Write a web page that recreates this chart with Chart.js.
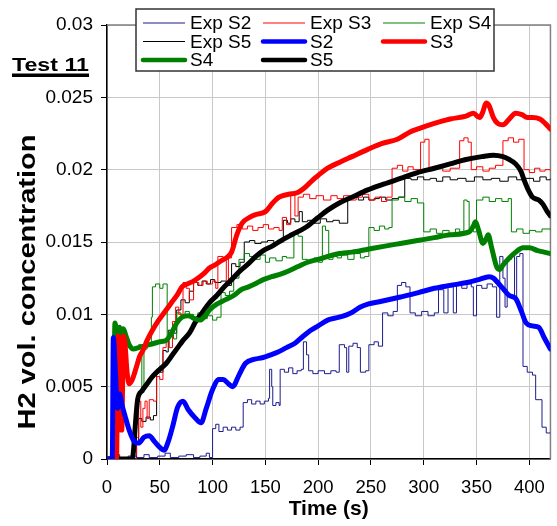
<!DOCTYPE html>
<html>
<head>
<meta charset="utf-8">
<script src="https://cdn.jsdelivr.net/npm/chart.js@4"></script>
<style>
  html, body { margin: 0; padding: 0; background: #fff; }
  #wrap { width: 557px; height: 526px; }
</style>
</head>
<body>
<div id="wrap"><canvas id="h2Chart" width="557" height="526"></canvas></div>
<script>
// Test 11 - H2 volume concentration, experiment vs simulation (sensors S2..S5)

// Exp S2
const expS2T = [0, 8, 12, 20, 28, 35, 40, 48, 55, 60, 68, 75, 82, 88, 94, 97, 100, 103, 106, 110, 114, 118, 122, 126, 129, 133, 137, 141, 145, 149, 153, 154, 156, 157, 160, 163, 164, 168, 172, 176, 180, 184, 186, 189, 191, 195, 200, 206, 212, 217, 220, 225, 227, 229, 233, 237, 240, 245, 248, 253, 257, 261, 266, 271, 275, 279, 283, 287, 292, 298, 304, 310, 314, 319, 323, 328, 331, 336, 341, 345, 347, 350, 355, 360, 365, 369, 372, 375, 377, 379, 383, 386, 388, 391, 394, 398, 403, 406, 410, 412, 416, 420];
const expS2V = [0.0001, 0.0003, 0.0001, 0.0002, 0.0001, 0.0003, 0.0001, 0.0002, 0.0004, 0.0001, 0.0002, 0.0003, 0.0001, 0.0002, 0.0004, 0.0001, 0.0021, 0.0024, 0.0019, 0.0022, 0.0020, 0.0022, 0.0020, 0.0022, 0.0039, 0.0041, 0.0038, 0.0040, 0.0038, 0.0040, 0.0042, 0.0062, 0.0050, 0.0037, 0.0039, 0.0037, 0.0062, 0.0060, 0.0063, 0.0059, 0.0061, 0.0062, 0.0081, 0.0072, 0.0061, 0.0059, 0.0061, 0.0059, 0.0061, 0.0060, 0.0079, 0.0077, 0.0060, 0.0078, 0.0080, 0.0077, 0.0060, 0.0061, 0.0079, 0.0081, 0.0078, 0.0101, 0.0099, 0.0102, 0.0120, 0.0122, 0.0119, 0.0101, 0.0099, 0.0102, 0.0099, 0.0101, 0.0117, 0.0101, 0.0119, 0.0101, 0.0120, 0.0118, 0.0121, 0.0119, 0.0099, 0.0120, 0.0118, 0.0121, 0.0119, 0.0098, 0.0140, 0.0125, 0.0105, 0.0138, 0.0140, 0.0110, 0.0140, 0.0142, 0.0064, 0.0060, 0.0058, 0.0041, 0.0041, 0.0022, 0.0018, 0.0018];

// Exp S3
const expS3T = [0, 26, 28, 30, 32, 34, 36, 38, 40, 44, 47, 50, 53, 56, 59, 62, 65, 68, 72, 75, 78, 82, 87, 91, 95, 100, 103, 105, 110, 113, 115, 118, 123, 128, 133, 138, 143, 148, 153, 158, 163, 166, 170, 174, 178, 181, 186, 192, 198, 205, 212, 218, 224, 230, 236, 242, 248, 254, 260, 265, 270, 275, 280, 285, 290, 297, 301, 305, 312, 318, 325, 334, 338, 342, 345, 350, 356, 362, 368, 375, 380, 385, 390, 395, 400, 405, 410, 415, 420];
const expS3V = [0, 0, 0.0015, 0.0040, 0.0022, 0.0035, 0.0040, 0.0028, 0.0041, 0.0040, 0.0057, 0.0055, 0.0077, 0.0082, 0.0077, 0.0095, 0.0105, 0.0100, 0.0122, 0.0118, 0.0110, 0.0122, 0.0120, 0.0123, 0.0121, 0.0123, 0.0118, 0.0140, 0.0138, 0.0122, 0.0139, 0.0160, 0.0162, 0.0159, 0.0161, 0.0158, 0.0160, 0.0162, 0.0159, 0.0160, 0.0158, 0.0167, 0.0162, 0.0184, 0.0168, 0.0181, 0.0183, 0.0180, 0.0182, 0.0179, 0.0182, 0.0180, 0.0182, 0.0179, 0.0181, 0.0183, 0.0179, 0.0181, 0.0178, 0.0181, 0.0201, 0.0203, 0.0199, 0.0202, 0.0200, 0.0219, 0.0221, 0.0200, 0.0202, 0.0199, 0.0201, 0.0220, 0.0222, 0.0219, 0.0200, 0.0202, 0.0199, 0.0201, 0.0203, 0.0220, 0.0222, 0.0219, 0.0221, 0.0200, 0.0198, 0.0201, 0.0199, 0.0200, 0.0199];

// Exp S4
const expS4T = [0, 5, 6, 9, 12, 16, 20, 24, 30, 33, 35, 38, 42, 43, 46, 50, 53, 57, 60, 63, 66, 70, 74, 78, 82, 86, 90, 95, 100, 104, 108, 112, 116, 120, 125, 130, 135, 140, 145, 150, 154, 160, 166, 170, 177, 181, 185, 190, 196, 200, 204, 207, 210, 214, 218, 222, 228, 234, 240, 244, 248, 253, 258, 263, 267, 270, 276, 282, 288, 294, 300, 306, 312, 318, 324, 330, 334, 338, 341, 343, 347, 350, 356, 362, 368, 374, 380, 383, 388, 394, 400, 406, 412, 420];
const expS4V = [0, 0, 0.0088, 0.0092, 0.0085, 0.0082, 0.0078, 0.0077, 0.0079, 0.0046, 0.0076, 0.0079, 0.0098, 0.0119, 0.0121, 0.0118, 0.0121, 0.0084, 0.0086, 0.0083, 0.0101, 0.0099, 0.0102, 0.0100, 0.0098, 0.0101, 0.0097, 0.0099, 0.0096, 0.0098, 0.0115, 0.0113, 0.0116, 0.0125, 0.0138, 0.0142, 0.0140, 0.0138, 0.0141, 0.0136, 0.0139, 0.0137, 0.0140, 0.0139, 0.0156, 0.0154, 0.0138, 0.0137, 0.0139, 0.0136, 0.0161, 0.0158, 0.0138, 0.0140, 0.0139, 0.0141, 0.0138, 0.0142, 0.0139, 0.0140, 0.0160, 0.0158, 0.0161, 0.0159, 0.0160, 0.0179, 0.0181, 0.0178, 0.0180, 0.0177, 0.0157, 0.0159, 0.0156, 0.0158, 0.0156, 0.0159, 0.0157, 0.0179, 0.0178, 0.0158, 0.0157, 0.0179, 0.0181, 0.0178, 0.0180, 0.0178, 0.0180, 0.0157, 0.0159, 0.0156, 0.0158, 0.0157, 0.0159, 0.0158];

// Exp S5
const expS5T = [0, 25, 28, 30, 33, 37, 41, 44, 47, 50, 53, 56, 58, 62, 66, 70, 74, 78, 82, 86, 90, 94, 98, 102, 108, 113, 118, 122, 126, 130, 135, 140, 146, 152, 158, 163, 167, 171, 174, 178, 182, 185, 190, 196, 202, 208, 214, 220, 228, 233, 238, 243, 248, 253, 258, 264, 270, 276, 282, 288, 294, 300, 306, 312, 318, 325, 332, 340, 348, 356, 364, 372, 380, 388, 396, 404, 410, 416, 420];
const expS5V = [0, 0, 0.0012, 0.0028, 0.0026, 0.0029, 0.0027, 0.0030, 0.0062, 0.0060, 0.0075, 0.0074, 0.0089, 0.0087, 0.0103, 0.0110, 0.0108, 0.0116, 0.0122, 0.0120, 0.0123, 0.0121, 0.0124, 0.0122, 0.0123, 0.0120, 0.0135, 0.0133, 0.0136, 0.0150, 0.0151, 0.0149, 0.0150, 0.0151, 0.0149, 0.0150, 0.0165, 0.0163, 0.0166, 0.0164, 0.0171, 0.0164, 0.0165, 0.0163, 0.0166, 0.0164, 0.0165, 0.0163, 0.0180, 0.0181, 0.0179, 0.0181, 0.0179, 0.0180, 0.0181, 0.0179, 0.0180, 0.0181, 0.0194, 0.0193, 0.0195, 0.0193, 0.0194, 0.0192, 0.0195, 0.0193, 0.0194, 0.0192, 0.0195, 0.0193, 0.0194, 0.0192, 0.0195, 0.0193, 0.0194, 0.0192, 0.0195, 0.0193, 0.0194];

// S2 (simulation)
const simS2T = [0, 5, 6, 8, 10, 12, 14, 17, 21, 26, 30, 35, 40, 45, 50, 54, 58, 62, 67, 72, 77, 84, 89, 94, 100, 106, 110, 115, 119, 125, 131, 140, 147, 155, 162, 170, 178, 186, 193, 200, 209, 220, 231, 240, 247, 260, 278, 295, 310, 325, 341, 352, 362, 366, 370, 376, 381, 387, 392, 397, 403, 409, 414, 420];
const simS2V = [0, 0, 0.0084, 0.0060, 0.0035, 0.0045, 0.0038, 0.0030, 0.0020, 0.0012, 0.0011, 0.0015, 0.0016, 0.0012, 0.0008, 0.0006, 0.0012, 0.0022, 0.0036, 0.0040, 0.0034, 0.0028, 0.0025, 0.0035, 0.0048, 0.0055, 0.0055, 0.0052, 0.0050, 0.0058, 0.0066, 0.0069, 0.0070, 0.0072, 0.0074, 0.0077, 0.0080, 0.0085, 0.0089, 0.0092, 0.0096, 0.0098, 0.0101, 0.0105, 0.0107, 0.0109, 0.0112, 0.0115, 0.0118, 0.0120, 0.0122, 0.0124, 0.0126, 0.0125, 0.0122, 0.0117, 0.0113, 0.0111, 0.0103, 0.0094, 0.0092, 0.0091, 0.0084, 0.0076];

// S3 (simulation)
const simS3T = [0, 9, 10.5, 12, 13, 14, 15.5, 17, 19, 21, 24, 28, 31, 34, 38, 43, 48, 52, 56, 62, 67, 71, 76, 82, 88, 93, 97, 102, 108, 113, 118, 123, 128, 135, 141, 150, 157, 163, 172, 180, 188, 195, 200, 209, 220, 232, 247, 260, 275, 287, 294, 310, 325, 340, 347, 353, 356, 359, 362, 366, 370, 375, 381, 387, 393, 398, 403, 410, 415, 420];
const simS3V = [0, 0, 0.0085, 0.0060, 0.0020, 0.0020, 0.0085, 0.0080, 0.0060, 0.0052, 0.0055, 0.0064, 0.0071, 0.0075, 0.0082, 0.0089, 0.0095, 0.0099, 0.0103, 0.0109, 0.0114, 0.0119, 0.0121, 0.0123, 0.0126, 0.0129, 0.0132, 0.0134, 0.0137, 0.0139, 0.0143, 0.0155, 0.0163, 0.0167, 0.0169, 0.0171, 0.0177, 0.0181, 0.0183, 0.0184, 0.0188, 0.0193, 0.0196, 0.0201, 0.0205, 0.0209, 0.0214, 0.0218, 0.0221, 0.0226, 0.0228, 0.0232, 0.0235, 0.0237, 0.0239, 0.0236, 0.0240, 0.0246, 0.0244, 0.0236, 0.0232, 0.0231, 0.0235, 0.0239, 0.0238, 0.0236, 0.0236, 0.0235, 0.0232, 0.0228];

// S4 (simulation)
const simS4T = [0, 6, 7.5, 9, 10.5, 12, 14, 15.5, 18, 21, 25, 30, 35, 40, 45, 50, 56, 61, 66, 71, 77, 83, 88, 93, 97, 104, 112, 120, 127, 134, 140, 148, 156, 165, 172, 181, 190, 200, 209, 220, 232, 247, 262, 278, 294, 310, 325, 343, 347, 349, 352, 356, 359, 361, 364, 367, 369, 372, 375, 381, 387, 394, 400, 408, 414, 420];
const simS4V = [0, 0, 0.0094, 0.0088, 0.0078, 0.0091, 0.0086, 0.0090, 0.0085, 0.0079, 0.0076, 0.0077, 0.0078, 0.0079, 0.0080, 0.0081, 0.0082, 0.0087, 0.0094, 0.0098, 0.0099, 0.0097, 0.0096, 0.0099, 0.0103, 0.0107, 0.0110, 0.0113, 0.0117, 0.0119, 0.0121, 0.0124, 0.0126, 0.0128, 0.0130, 0.0133, 0.0136, 0.0138, 0.0140, 0.0142, 0.0143, 0.0145, 0.0147, 0.0149, 0.0151, 0.0153, 0.0155, 0.0157, 0.0161, 0.0164, 0.0158, 0.0149, 0.0152, 0.0155, 0.0147, 0.0138, 0.0133, 0.0131, 0.0134, 0.0139, 0.0143, 0.0146, 0.0146, 0.0144, 0.0143, 0.0142];

// S5 (simulation)
const simS5T = [0, 24, 25, 27, 29, 33, 38, 43, 50, 56, 62, 67, 72, 78, 84, 90, 97, 104, 111, 118, 126, 134, 141, 148, 156, 165, 175, 188, 200, 209, 220, 232, 247, 262, 278, 294, 310, 325, 340, 355, 366, 375, 381, 387, 392, 395, 399, 403, 409, 413, 417, 420];
const simS5V = [0, 0, 0.0005, 0.0025, 0.0041, 0.0047, 0.0052, 0.0057, 0.0062, 0.0066, 0.0072, 0.0077, 0.0082, 0.0087, 0.0095, 0.0101, 0.0108, 0.0113, 0.0119, 0.0124, 0.0130, 0.0135, 0.0140, 0.0144, 0.0147, 0.0151, 0.0155, 0.0160, 0.0167, 0.0172, 0.0177, 0.0181, 0.0186, 0.0190, 0.0194, 0.0198, 0.0201, 0.0204, 0.0207, 0.0209, 0.0210, 0.0209, 0.0207, 0.0204, 0.0199, 0.0193, 0.0186, 0.0181, 0.0179, 0.0176, 0.0171, 0.0168];

const xTicks = [0, 50, 100, 150, 200, 250, 300, 350, 400];
const yTicks = [0, 0.005, 0.01, 0.015, 0.02, 0.025, 0.03];

const FONT = '"Liberation Sans", Arial, sans-serif';

function pts(t, v) {
    return t.map((x, i) => ({ x: x, y: v[i] }));
}

function expSet(label, color, t, v) {
    return { label: label, data: pts(t, v), borderColor: color, borderWidth: 1,
             stepped: true, pointRadius: 0, fill: false, order: 2 };
}

function simSet(label, color, t, v) {
    return { label: label, data: pts(t, v), borderColor: color, borderWidth: 5,
             cubicInterpolationMode: 'monotone', pointRadius: 0,
             fill: false, order: 1, borderCapStyle: 'round', borderJoinStyle: 'round' };
}

const datasets = [
    expSet('Exp S2', '#1c1c8c', expS2T, expS2V),
    expSet('Exp S3', '#ff0000', expS3T, expS3V),
    expSet('Exp S4', '#008000', expS4T, expS4V),
    expSet('Exp S5', '#000000', expS5T, expS5V),
    simSet('S2', '#0000ff', simS2T, simS2V),
    simSet('S3', '#ff0000', simS3T, simS3V),
    simSet('S4', '#008000', simS4T, simS4V),
    simSet('S5', '#000000', simS5T, simS5V)
];

// stretched text, like the wide office-style lettering of the original
function wideText(ctx, text, x, y, width, align) {
    const w = ctx.measureText(text).width;
    ctx.save();
    ctx.translate(x, y);
    ctx.scale(width / w, 1);
    ctx.textAlign = 'left';
    ctx.fillText(text, align === 'center' ? -w / 2 : 0, 0);
    ctx.restore();
}

// plot frame (grey top/right), y title, boxed legend and the "Test 11" label
const extras = {
    id: 'extras',
    beforeDatasetsDraw(chart) {
        const a = chart.chartArea, ctx = chart.ctx;
        ctx.save();
        ctx.strokeStyle = '#808080';
        ctx.lineWidth = 1.5;
        ctx.beginPath();
        ctx.moveTo(a.left, a.top);
        ctx.lineTo(a.right, a.top);
        ctx.lineTo(a.right, a.bottom);
        ctx.stroke();
        ctx.restore();
    },
    afterDraw(chart) {
        const ctx = chart.ctx;
        ctx.save();
        // y axis title
        ctx.fillStyle = '#000';
        ctx.font = 'bold 23px ' + FONT;
        ctx.textBaseline = 'middle';
        ctx.save();
        ctx.translate(29, 282);
        ctx.rotate(-Math.PI / 2);
        wideText(ctx, 'H2 vol. concentration', 0, 0, 295, 'center');
        ctx.restore();

        // legend box
        ctx.fillStyle = '#fff';
        ctx.fillRect(136, 9, 358, 62);
        ctx.strokeStyle = '#333';
        ctx.lineWidth = 1.5;
        ctx.strokeRect(136, 9, 358, 62);
        ctx.font = '19px ' + FONT;
        ctx.textBaseline = 'middle';
        ctx.fillStyle = '#000';
        chart.data.datasets.forEach((ds, i) => {
            const col = i % 3, row = Math.floor(i / 3);
            const x0 = 143 + col * 120, y = 23 + row * 18.5;
            ctx.strokeStyle = ds.borderColor;
            ctx.lineWidth = ds.borderWidth > 2 ? 4.5 : 1;
            ctx.lineCap = ds.borderWidth > 2 ? 'round' : 'butt';
            ctx.beginPath();
            ctx.moveTo(x0, y);
            ctx.lineTo(x0 + 42, y);
            ctx.stroke();
            ctx.fillText(ds.label, x0 + 47, y + 1);
        });

        // Test 11
        ctx.font = 'bold 19px ' + FONT;
        ctx.textBaseline = 'alphabetic';
        ctx.fillStyle = '#000';
        wideText(ctx, 'Test 11', 12, 71, 77, 'left');
        ctx.fillRect(12, 73.5, 77, 3.5);
        ctx.restore();
    }
};

const ctx = document.getElementById('h2Chart').getContext('2d');
const h2Chart = new Chart(ctx, {
    type: 'line',
    data: { datasets: datasets },
    plugins: [extras],
    options: {
        responsive: false,
        animation: false,
        devicePixelRatio: 1,
        layout: { padding: { left: 12, right: 5, top: 25, bottom: 0 } },
        plugins: { legend: { display: false }, tooltip: { enabled: false } },
        scales: {
            x: {
                type: 'linear',
                min: 0,
                max: 420,
                afterBuildTicks: (s) => { s.ticks = xTicks.map(v => ({ value: v })); },
                afterFit: (s) => { s.height = 67; },
                ticks: { font: { family: FONT, size: 18.5 }, color: '#000', padding: 12, maxRotation: 0 },
                grid: { color: '#c8c8c8', lineWidth: 1, tickLength: 6, tickColor: '#000' },
                border: { color: '#000', width: 1.5 },
                title: { display: true, text: 'Time (s)', color: '#000',
                         font: { family: FONT, size: 21, weight: 'bold' }, padding: { top: 0, bottom: 4 } }
            },
            y: {
                min: 0,
                max: 0.03,
                afterBuildTicks: (s) => { s.ticks = yTicks.map(v => ({ value: v })); },
                afterFit: (s) => { s.width = 95; },
                ticks: { font: { family: FONT, size: 19 }, color: '#000', padding: 8,
                         callback: (v) => String(+v.toFixed(3)) },
                grid: { color: '#c8c8c8', lineWidth: 1, tickLength: 6, tickColor: '#000' },
                border: { color: '#000', width: 1.5 },
                title: { display: false }
            }
        }
    }
});
</script>
</body>
</html>
